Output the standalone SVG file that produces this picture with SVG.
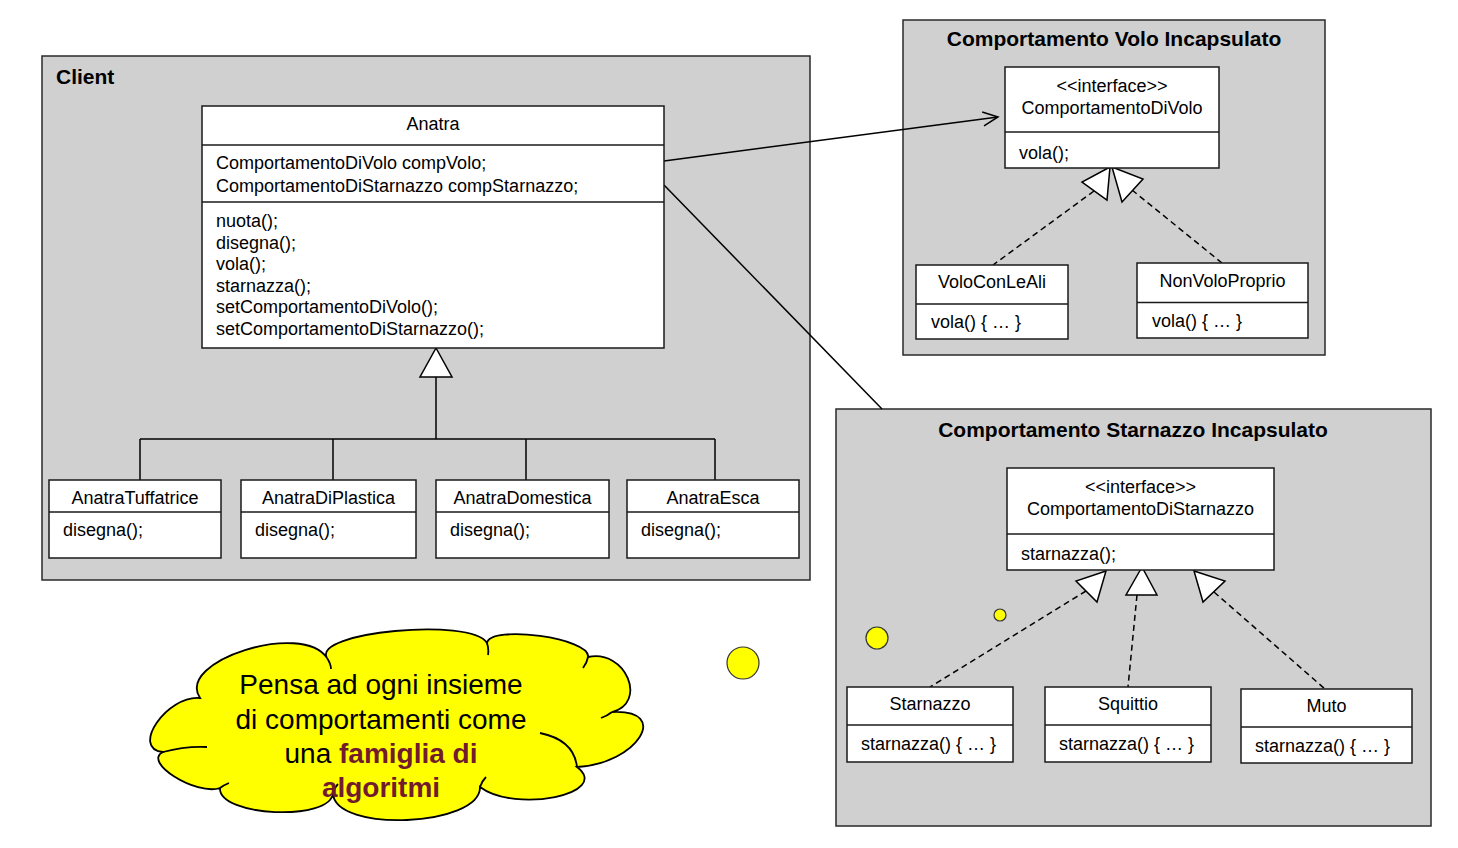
<svg xmlns="http://www.w3.org/2000/svg" width="1458" height="848" viewBox="0 0 1458 848">
<defs>
<style>
.pkg{fill:#d0d0d0;stroke:#2a2a2a;stroke-width:1.5}
.box{fill:#fff;stroke:#1a1a1a;stroke-width:1.5}
.dv{stroke:#1a1a1a;stroke-width:1.5}
.t{font-family:"Liberation Sans",Arial,sans-serif;font-size:18px;fill:#000}
.c{text-anchor:middle}
.title{font-family:"Liberation Sans",Arial,sans-serif;font-size:21px;font-weight:bold;fill:#000}
.ln{stroke:#000;stroke-width:1.5;fill:none}
.dash{stroke:#000;stroke-width:1.5;fill:none;stroke-dasharray:6 4}
.tri{fill:#fff;stroke:#000;stroke-width:1.5;stroke-linejoin:miter}
.dot{fill:#ffff00;stroke:#333;stroke-width:1.2}
.cloud{fill:#ffff00;stroke:#000;stroke-width:1.8}
.inner{fill:none;stroke:#000;stroke-width:1.8}
.ct{font-family:"Liberation Sans",Arial,sans-serif;font-size:28px;fill:#000;text-anchor:middle}
.em{font-weight:bold;fill:#701c2c}
</style>
<marker id="open" viewBox="0 0 20 20" refX="18" refY="10" markerWidth="20" markerHeight="20" markerUnits="userSpaceOnUse" orient="auto">
<path d="M3,3 L18,10 L3,17" fill="none" stroke="#000" stroke-width="1.5"/>
</marker>
</defs>
<rect width="1458" height="848" fill="#fff"/>

<g id="pkg-client">
<rect class="pkg" x="42" y="56" width="768" height="524"/>
<text class="title" x="56" y="84">Client</text>
</g>
<g id="pkg-volo">
<rect class="pkg" x="903" y="20" width="422" height="335"/>
<text class="title c" x="1114" y="46">Comportamento Volo Incapsulato</text>
</g>
<g id="pkg-starnazzo">
<rect class="pkg" x="836" y="409" width="595" height="417"/>
<text class="title c" x="1133" y="437">Comportamento Starnazzo Incapsulato</text>
</g>

<g id="connectors">
<path class="ln" d="M664,161 L998,117" marker-end="url(#open)"/>
<path class="ln" d="M664,185 L882,409"/>
<path class="ln" d="M436,377 L436,439 M140,439 L715,439 M140,439 L140,480 M333,439 L333,480 M526,439 L526,480 M715,439 L715,480"/>
<polygon class="tri" points="436,348 420,377 452,377"/>
<path class="dash" d="M1094,191 L993,265"/>
<path class="dash" d="M1132,190 L1222,263"/>
<polygon class="tri" points="1110,167 1082,182 1107,200"/>
<polygon class="tri" points="1112,167 1122,202 1143,179"/>
<path class="dash" d="M1086,591 L930,687"/>
<path class="dash" d="M1137,595 L1128,687"/>
<path class="dash" d="M1214,592 L1325,689"/>
<polygon class="tri" points="1106,571 1076,581 1097,602"/>
<polygon class="tri" points="1142,567 1126,595 1157,595"/>
<polygon class="tri" points="1194,571 1225,581 1203,602"/>
</g>

<g id="Anatra">
<rect class="box" x="202" y="106" width="462" height="242"/>
<line class="dv" x1="202" y1="145" x2="664" y2="145"/>
<line class="dv" x1="202" y1="202" x2="664" y2="202"/>
<text class="t c" x="433" y="130">Anatra</text>
<text class="t" x="216" y="169">ComportamentoDiVolo compVolo;</text>
<text class="t" x="216" y="192">ComportamentoDiStarnazzo compStarnazzo;</text>
<text class="t" x="216" y="227">nuota();</text>
<text class="t" x="216" y="248.5">disegna();</text>
<text class="t" x="216" y="270">vola();</text>
<text class="t" x="216" y="291.5">starnazza();</text>
<text class="t" x="216" y="313">setComportamentoDiVolo();</text>
<text class="t" x="216" y="334.5">setComportamentoDiStarnazzo();</text>
</g>

<g id="AnatraTuffatrice">
<rect class="box" x="49" y="480" width="172" height="78"/>
<line class="dv" x1="49" y1="512" x2="221" y2="512"/>
<text class="t c" x="135" y="504">AnatraTuffatrice</text>
<text class="t" x="63" y="536">disegna();</text>
</g>
<g id="AnatraDiPlastica">
<rect class="box" x="241" y="480" width="175" height="78"/>
<line class="dv" x1="241" y1="512" x2="416" y2="512"/>
<text class="t c" x="328.5" y="504">AnatraDiPlastica</text>
<text class="t" x="255" y="536">disegna();</text>
</g>
<g id="AnatraDomestica">
<rect class="box" x="436" y="480" width="173" height="78"/>
<line class="dv" x1="436" y1="512" x2="609" y2="512"/>
<text class="t c" x="522.5" y="504">AnatraDomestica</text>
<text class="t" x="450" y="536">disegna();</text>
</g>
<g id="AnatraEsca">
<rect class="box" x="627" y="480" width="172" height="78"/>
<line class="dv" x1="627" y1="512" x2="799" y2="512"/>
<text class="t c" x="713" y="504">AnatraEsca</text>
<text class="t" x="641" y="536">disegna();</text>
</g>

<g id="ComportamentoDiVolo">
<rect class="box" x="1005" y="67" width="214" height="101"/>
<line class="dv" x1="1005" y1="132" x2="1219" y2="132"/>
<text class="t c" x="1112" y="92">&lt;&lt;interface&gt;&gt;</text>
<text class="t c" x="1112" y="114">ComportamentoDiVolo</text>
<text class="t" x="1019" y="159">vola();</text>
</g>
<g id="VoloConLeAli">
<rect class="box" x="916" y="265" width="152" height="74"/>
<line class="dv" x1="916" y1="304" x2="1068" y2="304"/>
<text class="t c" x="992" y="288">VoloConLeAli</text>
<text class="t" x="931" y="328">vola() { … }</text>
</g>
<g id="NonVoloProprio">
<rect class="box" x="1137" y="263" width="171" height="75"/>
<line class="dv" x1="1137" y1="302.5" x2="1308" y2="302.5"/>
<text class="t c" x="1222.5" y="287">NonVoloProprio</text>
<text class="t" x="1152" y="327">vola() { … }</text>
</g>

<g id="ComportamentoDiStarnazzo">
<rect class="box" x="1007" y="468" width="267" height="102"/>
<line class="dv" x1="1007" y1="534" x2="1274" y2="534"/>
<text class="t c" x="1140.5" y="493">&lt;&lt;interface&gt;&gt;</text>
<text class="t c" x="1140.5" y="515">ComportamentoDiStarnazzo</text>
<text class="t" x="1021" y="560">starnazza();</text>
</g>
<g id="Starnazzo">
<rect class="box" x="847" y="687" width="166" height="75"/>
<line class="dv" x1="847" y1="725" x2="1013" y2="725"/>
<text class="t c" x="930" y="710">Starnazzo</text>
<text class="t" x="861" y="750">starnazza() { … }</text>
</g>
<g id="Squittio">
<rect class="box" x="1045" y="687" width="166" height="75"/>
<line class="dv" x1="1045" y1="725" x2="1211" y2="725"/>
<text class="t c" x="1128" y="710">Squittio</text>
<text class="t" x="1059" y="750">starnazza() { … }</text>
</g>
<g id="Muto">
<rect class="box" x="1241" y="689" width="171" height="74"/>
<line class="dv" x1="1241" y1="727" x2="1412" y2="727"/>
<text class="t c" x="1326.5" y="712">Muto</text>
<text class="t" x="1255" y="752">starnazza() { … }</text>
</g>

<g id="thought-bubbles">
<circle class="dot" cx="743" cy="663" r="16"/>
<circle class="dot" cx="877" cy="638" r="11"/>
<circle class="dot" cx="1000" cy="615" r="6"/>
</g>

<g id="cloud">
<path class="cloud" d="M163,752 C130,749 167,695 200,698 C175.3,660.7 302.3,620.7 327,658 C311,632 471,617 487,643 C490.3,624.3 591.3,638.3 588,657 C626,649 648,703 612,712 C672,709 637,764 577,767 C612.3,793.7 515.3,813.7 480,787 C480.7,827 333.7,833 333,793 C331,821.7 218,816.7 220,788 C196,796 142,762 163,752 Z"/>
<path class="inner" d="M163,752 Q185,746 207,747 M327,658 Q331,664 331,669 M487,643 Q489,649 488,655 M588,657 Q587,663 583,668 M612,712 Q607,716 601,718 M540,733 Q574,740 577,767 M480,787 Q482,781 486,777 M333,793 Q334,788 338,784 M220,788 Q224,785 229,783"/>
<text class="ct" x="381" y="694">Pensa ad ogni insieme</text>
<text class="ct" x="381" y="729">di comportamenti come</text>
<text class="ct" x="381" y="763">una <tspan class="em">famiglia di</tspan></text>
<text class="ct" x="381" y="797"><tspan class="em">algoritmi</tspan></text>
</g>
</svg>
